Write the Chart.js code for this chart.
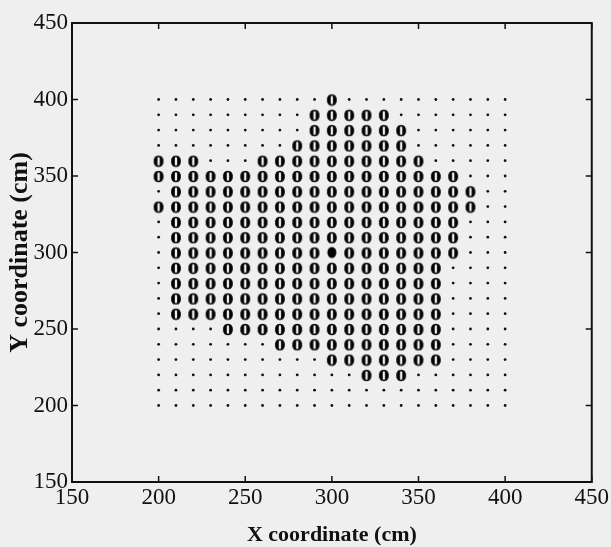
<!DOCTYPE html>
<html>
<head>
<meta charset="utf-8">
<script src="https://cdn.jsdelivr.net/npm/chart.js@4/dist/chart.umd.min.js"></script>
<style>
  html, body { margin: 0; padding: 0; background: #efefef; }
  #wrap { width: 611px; height: 547px; }
</style>
</head>
<body>
<div id="wrap"><canvas id="chart" width="611" height="547"></canvas></div>
<script>
// grid positions (cm)
const xCoords = [200, 210, 220, 230, 240, 250, 260, 270, 280, 290, 300, 310, 320, 330, 340, 350, 360, 370, 380, 390, 400];
const yCoords = [400, 390, 380, 370, 360, 350, 340, 330, 320, 310, 300, 290, 280, 270, 260, 250, 240, 230, 220, 210, 200];
const axisTicks = [150, 200, 250, 300, 350, 400, 450];

// one string per row (top to bottom), one char per column:
// '.' = sample point, 'o' = localised, '*' = reference position
const gridRows = [
  '..........o..........',
  '.........ooooo.......',
  '.........oooooo......',
  '........ooooooo......',
  'ooo...oooooooooo.....',
  'oooooooooooooooooo...',
  '.oooooooooooooooooo..',
  'ooooooooooooooooooo..',
  '.ooooooooooooooooo...',
  '.ooooooooooooooooo...',
  '.ooooooooo*ooooooo...',
  '.oooooooooooooooo....',
  '.oooooooooooooooo....',
  '.oooooooooooooooo....',
  '.oooooooooooooooo....',
  '....ooooooooooooo....',
  '.......oooooooooo....',
  '..........ooooooo....',
  '............ooo......',
  '.....................',
  '.....................'
];

const dots = [], rings = [], ref = [];
gridRows.forEach((row, i) => {
  row.split('').forEach((c, j) => {
    const p = { x: xCoords[j], y: yCoords[i] };
    if (c === 'o') rings.push(p);
    else if (c === '*') ref.push(p);
    else dots.push(p);
  });
});

// "0" glyph marker like the original plot
const ringImg = document.createElement('canvas');
ringImg.width = 14; ringImg.height = 14;
(function () {
  const g = ringImg.getContext('2d');
  g.fillStyle = '#000';
  g.strokeStyle = '#000';
  g.lineWidth = 0.7;
  g.font = 'bold 15px "DejaVu Serif"';
  g.textAlign = 'center';
  g.textBaseline = 'alphabetic';
  g.fillText('0', 7, 12.5);
  g.strokeText('0', 7, 12.5);
})();

const refImg = document.createElement('canvas');
refImg.width = 14; refImg.height = 14;
(function () {
  const g = refImg.getContext('2d');
  g.fillStyle = '#000';
  g.beginPath();
  g.ellipse(7, 7, 4.5, 5.6, 0, 0, Math.PI * 2);
  g.fill();
})();

const paper = {
  id: 'paper',
  beforeDraw(chart) {
    const ctx = chart.ctx;
    ctx.save();
    ctx.fillStyle = '#efefef';
    ctx.fillRect(0, 0, chart.width, chart.height);
    ctx.restore();
  }
};

// box frame with inward ticks on all four sides
const frame = {
  id: 'frame',
  afterDraw(chart) {
    const { ctx, chartArea: a, scales } = chart;
    ctx.save();
    ctx.strokeStyle = '#111';
    ctx.lineWidth = 2;
    ctx.strokeRect(a.left, a.top, a.right - a.left, a.bottom - a.top);
    ctx.lineWidth = 1.5;
    ctx.beginPath();
    axisTicks.forEach(v => {
      const px = scales.x.getPixelForValue(v);
      ctx.moveTo(px, a.bottom); ctx.lineTo(px, a.bottom - 6);
      ctx.moveTo(px, a.top); ctx.lineTo(px, a.top + 6);
      const py = scales.y.getPixelForValue(v);
      ctx.moveTo(a.left, py); ctx.lineTo(a.left + 6, py);
      ctx.moveTo(a.right, py); ctx.lineTo(a.right - 6, py);
    });
    ctx.stroke();
    ctx.restore();
  }
};

const serif = '"Liberation Serif", "Times New Roman", serif';
const tickFont = { family: serif, size: 23 };

new Chart(document.getElementById('chart'), {
  type: 'scatter',
  data: {
    datasets: [
      { label: 'points', data: dots, pointStyle: 'circle', pointRadius: 1.4,
        backgroundColor: '#111', borderWidth: 0 },
      { label: 'localised', data: rings, pointStyle: ringImg },
      { label: 'reference', data: ref, pointStyle: refImg }
    ]
  },
  plugins: [paper, frame],
  options: {
    responsive: false,
    animation: false,
    events: [],
    layout: { padding: { top: 23, right: 18, left: 0, bottom: 0 } },
    plugins: { legend: { display: false }, tooltip: { enabled: false } },
    scales: {
      x: {
        type: 'linear', min: 150, max: 450,
        afterBuildTicks: s => { s.ticks = axisTicks.map(v => ({ value: v })); },
        afterFit: s => { s.height = 65; },
        grid: { display: false, drawTicks: false },
        border: { display: false },
        ticks: { font: tickFont, color: '#111', padding: 2, maxRotation: 0 },
        title: { display: true, text: 'X coordinate (cm)', color: '#111',
                 font: { family: serif, size: 22, weight: 'bold', lineHeight: 1 },
                 padding: { top: 0, bottom: 1 } }
      },
      y: {
        type: 'linear', min: 150, max: 450,
        afterBuildTicks: s => { s.ticks = axisTicks.map(v => ({ value: v })); },
        afterFit: s => { s.width = 72; },
        grid: { display: false, drawTicks: false },
        border: { display: false },
        ticks: { font: tickFont, color: '#111', padding: 4 },
        title: { display: true, text: 'Y coordinate (cm)', color: '#111',
                 font: { family: serif, size: 26, weight: 'bold', lineHeight: 1 },
                 padding: { top: 7, bottom: 0 } }
      }
    }
  }
});
</script>
</body>
</html>
